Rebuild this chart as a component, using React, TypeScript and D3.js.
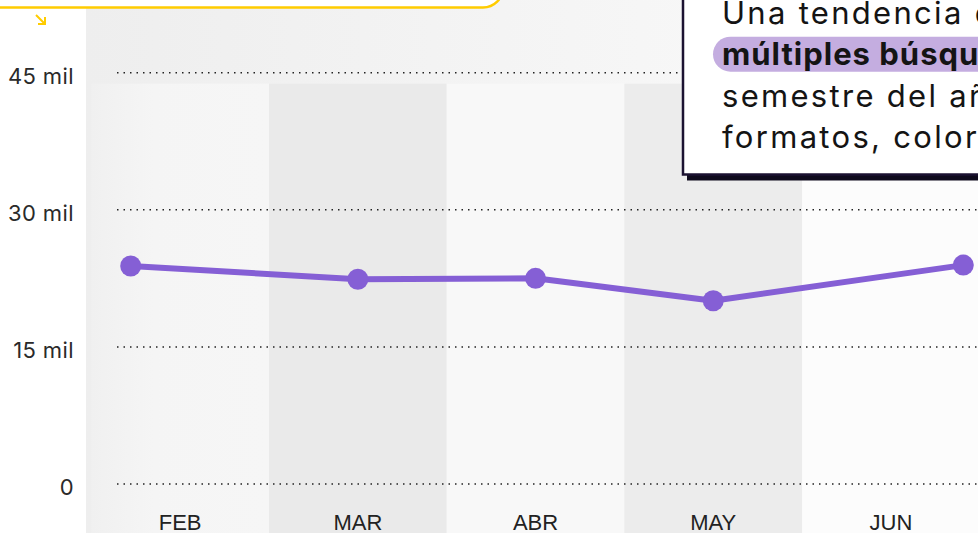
import React from 'react';
import * as d3 from 'd3';

const months = ['FEB', 'MAR', 'ABR', 'MAY', 'JUN'];
const searches = [23850, 22400, 22500, 20050, 23950];
const yTicks = [0, 15000, 30000, 45000];
const yTickLabels = ['0', '15 mil', '30 mil', '45 mil'];
const bandFills = ['#f5f5f5', '#eaeaea', '#f8f8f8', '#ececec', '#fcfcfc'];
const noteLines = [
  { text: 'Una tendencia de', bold: false },
  { text: 'múltiples búsquedas en el primer', bold: true },
  { text: 'semestre del año: materiales,', bold: false },
  { text: 'formatos, colores y estilos', bold: false },
];

const W = 978;
const H = 533;

export default function App() {
  const x = d3.scaleBand<string>().domain(months).range([91.3, 979.8]).padding(0);
  const y = d3.scaleLinear().domain([0, 45000]).range([484, 72.7]);
  const xc = (m: string) => (x(m) as number) + x.bandwidth() / 2;
  const xPoint = d3
    .scaleLinear()
    .domain([0, 1, 3, 4])
    .range([(x(months[0]) as number) + 39.4, xc(months[1]), xc(months[3]), (x(months[4]) as number) + x.bandwidth() - 16.5]);
  const line = d3
    .line<number>()
    .x((_, i) => xPoint(i))
    .y((d) => y(d));
  const bandTop = y(45000) + 11;
  const font = 'Inter, "Noto Sans", sans-serif';

  return (
    <svg width={W} height={H} style={{ position: 'absolute', left: 0, top: 0, display: 'block' }}>
      <defs>
        <linearGradient id="bgTop" x1="0" x2="1" y1="0" y2="0">
          <stop offset="0" stopColor="#eeeeee" />
          <stop offset="0.7" stopColor="#f7f7f7" />
          <stop offset="1" stopColor="#f9f9f9" />
        </linearGradient>
        <linearGradient id="febGrad" x1="0" x2="1" y1="0" y2="0">
          <stop offset="0" stopColor="#f0f0f0" />
          <stop offset="0.35" stopColor="#f5f5f5" />
          <stop offset="1" stopColor="#f6f6f6" />
        </linearGradient>
      </defs>
      <rect x={0} y={0} width={W} height={H} fill="#ffffff" />
      <rect x={86} y={0} width={W - 86} height={H} fill="url(#bgTop)" />
      {months.map((m, i) => (
        <rect
          key={m}
          x={x(m)}
          y={bandTop}
          width={x.bandwidth()}
          height={H - bandTop}
          fill={i === 0 ? 'url(#febGrad)' : bandFills[i]}
        />
      ))}

      {yTicks.map((t) => (
        <line
          key={t}
          x1={117}
          x2={W}
          y1={y(t)}
          y2={y(t)}
          stroke="#222"
          strokeWidth={1.5}
          strokeDasharray="1.5 5"
        />
      ))}
      {yTicks.map((t, i) => (
        <text
          key={'l' + t}
          x={74}
          y={y(t) + 3}
          textAnchor="end"
          dominantBaseline="central"
          fontFamily={font}
          fontSize={22}
          letterSpacing={0.4}
          fill="#2a2a2a"
        >
          {yTickLabels[i]}
        </text>
      ))}
      {months.map((m) => (
        <text
          key={'x' + m}
          x={xc(m)}
          y={529.5}
          textAnchor="middle"
          fontFamily='"Liberation Sans", Arial, sans-serif'
          fontSize={22}
          fill="#222"
        >
          {m}
        </text>
      ))}

      <path d={line(searches) || ''} fill="none" stroke="#855fd5" strokeWidth={6} strokeLinejoin="round" />
      {searches.map((v, i) => (
        <circle key={i} cx={xPoint(i)} cy={y(v)} r={10.5} fill="#855fd5" />
      ))}

      <rect x={-30} y={-40} width={533} height={47.5} rx={20} fill="#ffffff" stroke="#ffcc00" strokeWidth={2.5} />
      <path d="M36 15 L45 24 M45 17 L45 24 L38 24" fill="none" stroke="#ffcc00" strokeWidth={2} />

      <rect x={687} y={-4} width={400} height={184.5} fill="#0e0a1c" />
      <rect x={683} y={-10} width={400} height={184.5} fill="#ffffff" stroke="#1b1231" strokeWidth={2.5} />
      <rect x={713} y={36.7} width={400} height={35} rx={17.5} fill="#c4ade0" />
      {noteLines.map((l, i) => (
        <text
          key={'n' + i}
          x={722}
          y={23.5 + i * 41.5}
          fontFamily={font}
          fontSize={31}
          fontWeight={l.bold ? 700 : 400}
          letterSpacing={l.bold ? 1.0 : 2.3}
          fill="#141414"
        >
          {l.text}
        </text>
      ))}
    </svg>
  );
}
